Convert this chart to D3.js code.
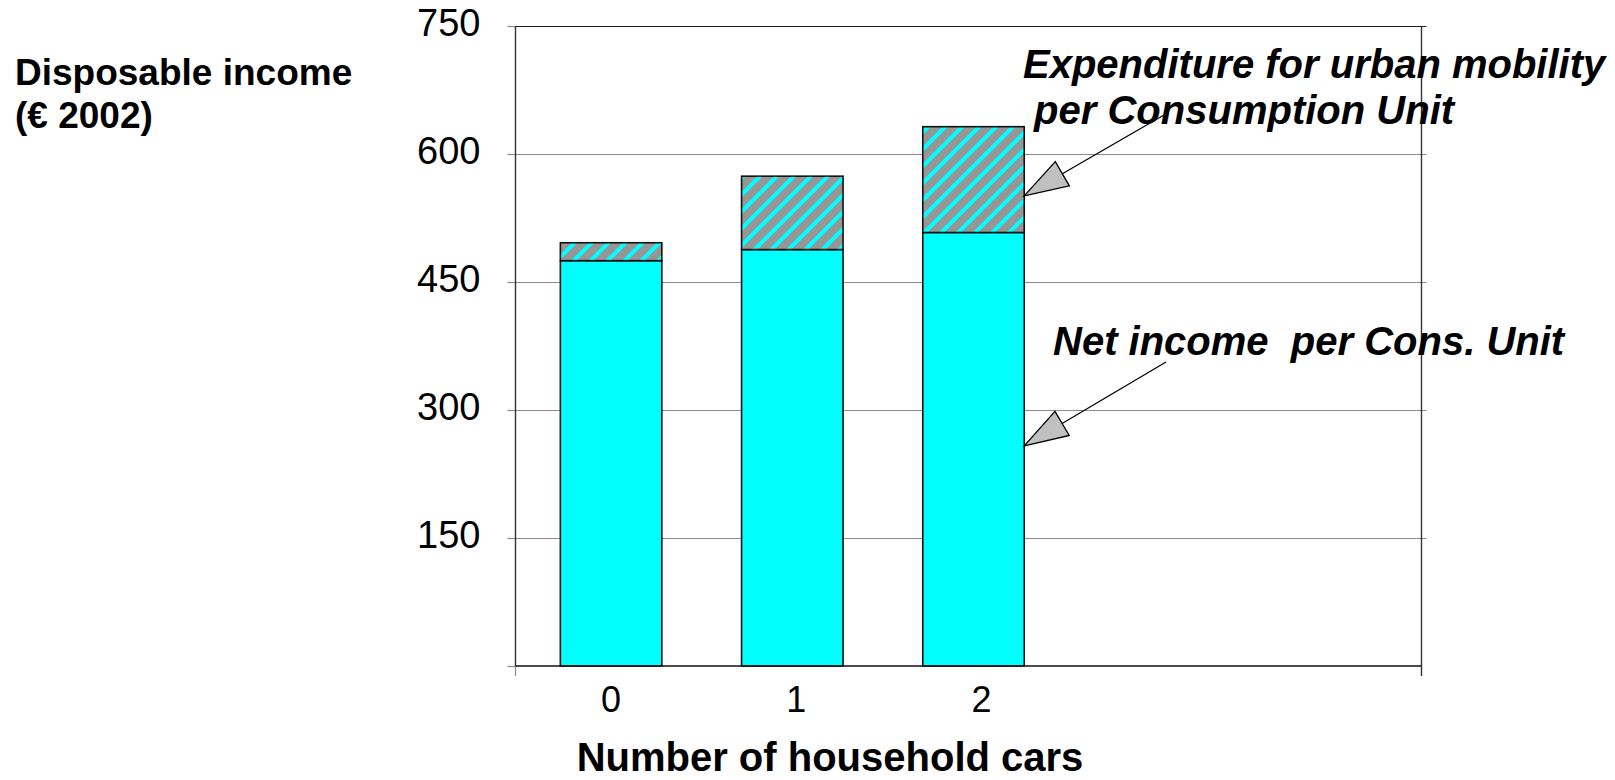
<!DOCTYPE html>
<html>
<head>
<meta charset="utf-8">
<script src="https://cdn.jsdelivr.net/npm/d3@7"></script>
<style>
  html, body { margin: 0; padding: 0; background: #fff; }
  svg { display: block; }
  text { font-family: "Liberation Sans", Arial, Helvetica, sans-serif; fill: #000; }
</style>
</head>
<body>
<script>
// Households grouped by number of cars
const categories = ["0", "1", "2"];
// Net income per consumption unit (€ 2002)
const netIncome = [475, 488, 508];
// Expenditure for urban mobility per consumption unit (€ 2002)
const mobilityExpenditure = [21, 86, 124];
// Value axis ticks
const yTicks = [150, 300, 450, 600, 750];

const W = 1615, H = 780;
const L = 515.5, R = 1421.5, T = 26, B = 666;

const svg = d3.select("body").append("svg")
  .attr("width", W).attr("height", H);

const defs = svg.append("defs");
const hatch = defs.append("pattern")
  .attr("id", "hatch")
  .attr("patternUnits", "userSpaceOnUse")
  .attr("width", 12).attr("height", 12)
  .attr("patternTransform", "rotate(45)");
hatch.append("rect").attr("width", 12).attr("height", 12).attr("fill", "#969696");
hatch.append("rect").attr("x", 0).attr("width", 4).attr("height", 12).attr("fill", "#00ffff");

const y = d3.scaleLinear().domain([0, 750]).range([B, T]);
// category axis holds five slots, the first three are used
const step = (R - L) / 5;
const x = d3.scaleBand().domain(categories)
  .range([L + 5, L + 5 + step * categories.length])
  .paddingInner(0.44).paddingOuter(0.22);

// gridlines
svg.append("g").selectAll("line").data(yTicks.filter(v => v < 750)).join("line")
  .attr("x1", L).attr("x2", R + 5)
  .attr("y1", d => Math.round(y(d)) + 0.5).attr("y2", d => Math.round(y(d)) + 0.5)
  .attr("stroke", "#8a8a8a").attr("stroke-width", 1.2);

// value axis
const yAxis = svg.append("g").attr("transform", `translate(${L},0)`)
  .call(d3.axisLeft(y).tickValues([0, ...yTicks]).tickSize(8).tickFormat(d => d === 0 ? "" : d));
yAxis.select(".domain").remove();
yAxis.selectAll(".tick line").attr("stroke", "#8a8a8a").attr("stroke-width", 1.2);
yAxis.selectAll(".tick text")
  .attr("x", -35)
  .attr("dy", "0.25em")
  .style("font-size", "38px")
  .style("font-family", "'Liberation Sans', Arial, sans-serif")
  .attr("fill", "#000");

// frame
svg.append("line").attr("x1", L).attr("x2", R + 5).attr("y1", T + 0.5).attr("y2", T + 0.5)
  .attr("stroke", "#222").attr("stroke-width", 1.2);
svg.append("line").attr("x1", L).attr("x2", L).attr("y1", T).attr("y2", B)
  .attr("stroke", "#333").attr("stroke-width", 1.4);
svg.append("line").attr("x1", R).attr("x2", R).attr("y1", T).attr("y2", B + 10)
  .attr("stroke", "#333").attr("stroke-width", 1.4);
svg.append("line").attr("x1", L).attr("x2", L).attr("y1", B).attr("y2", B + 10)
  .attr("stroke", "#8a8a8a").attr("stroke-width", 1.2);

// stacked bars
const bars = svg.append("g");
bars.selectAll("rect.net").data(categories).join("rect")
  .attr("class", "net")
  .attr("x", d => x(d)).attr("width", x.bandwidth())
  .attr("y", (d, i) => y(netIncome[i]))
  .attr("height", (d, i) => y(0) - y(netIncome[i]))
  .attr("fill", "#00ffff").attr("stroke", "#111").attr("stroke-width", 1.6);
bars.selectAll("rect.mob").data(categories).join("rect")
  .attr("class", "mob")
  .attr("x", d => x(d)).attr("width", x.bandwidth())
  .attr("y", (d, i) => y(netIncome[i] + mobilityExpenditure[i]))
  .attr("height", (d, i) => y(netIncome[i]) - y(netIncome[i] + mobilityExpenditure[i]))
  .attr("fill", "url(#hatch)").attr("stroke", "#111").attr("stroke-width", 1.6);

// baseline
svg.append("line").attr("x1", L).attr("x2", R).attr("y1", B).attr("y2", B)
  .attr("stroke", "#111").attr("stroke-width", 1.5);

// category labels
svg.append("g").selectAll("text").data(categories).join("text")
  .attr("x", d => x(d) + x.bandwidth() / 2 + (+d) * 4)
  .attr("y", 712)
  .attr("text-anchor", "middle")
  .style("font-size", "36px")
  .text(d => d);

// axis titles
svg.append("text").attr("x", 830).attr("y", 771).attr("text-anchor", "middle")
  .style("font-size", "40px").style("font-weight", "bold")
  .text("Number of household cars");
const yt = svg.append("text").style("font-size", "37px").style("font-weight", "bold");
yt.append("tspan").attr("x", 15).attr("y", 85).text("Disposable income");
yt.append("tspan").attr("x", 15).attr("y", 128).text("(€ 2002)");

// callouts
function callout(lines, tx, ty, from, cat, value) {
  const t = svg.append("text")
    .style("font-size", "40px").style("font-weight", "bold").style("font-style", "italic")
    .style("white-space", "pre");
  lines.forEach((s, i) => t.append("tspan").attr("x", tx).attr("y", ty + i * 46).text(s));
  const tip = [x(cat) + x.bandwidth(), y(value)];
  const dx = from[0] - tip[0], dy = from[1] - tip[1];
  const len = Math.hypot(dx, dy), ux = dx / len, uy = dy / len;
  const headLen = 44, headHalf = 14;
  const bx = tip[0] + ux * headLen, by = tip[1] + uy * headLen;
  svg.append("line").attr("x1", from[0]).attr("y1", from[1]).attr("x2", bx).attr("y2", by)
    .attr("stroke", "#000").attr("stroke-width", 1.3);
  const p1 = [bx - uy * headHalf, by + ux * headHalf];
  const p2 = [bx + uy * headHalf, by - ux * headHalf];
  svg.append("path").attr("d", `M${tip}L${p1}L${p2}Z`)
    .attr("fill", "#c0c0c0").attr("stroke", "#000").attr("stroke-width", 1.3);
}
callout(["Expenditure for urban mobility", " per Consumption Unit"], 1023, 78, [1164, 115], "2", 551);
callout(["Net income  per Cons. Unit"], 1053, 355, [1166, 362], "2", 258);
</script>
</body>
</html>
